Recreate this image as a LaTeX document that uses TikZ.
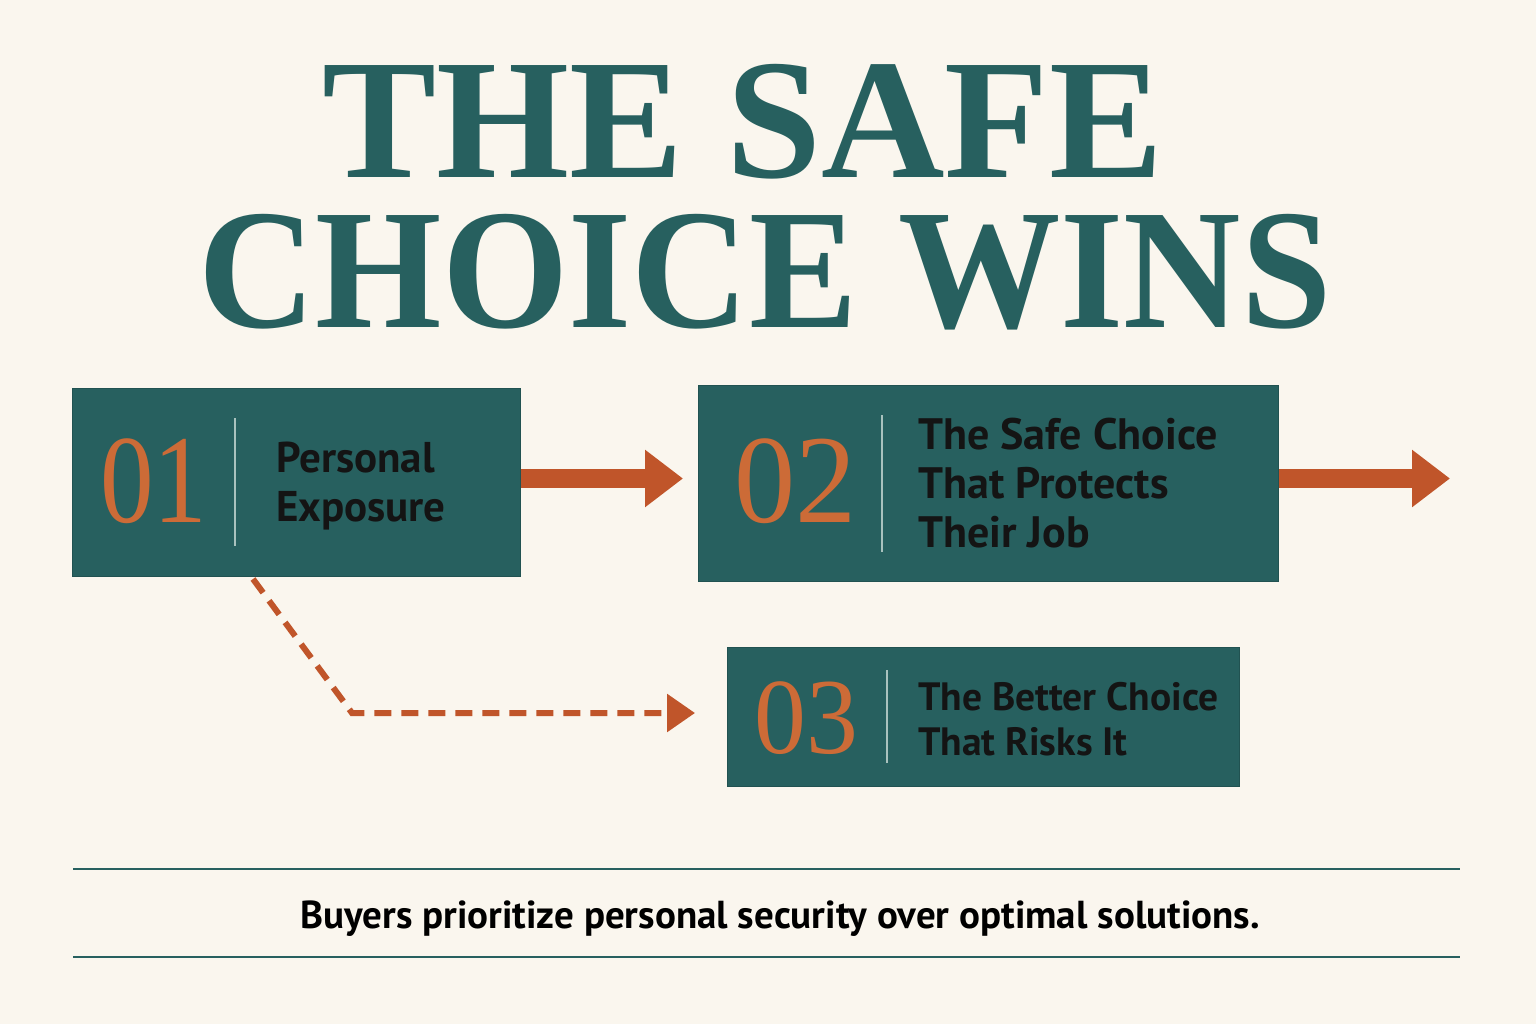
\documentclass[tikz,border=0pt]{standalone}
\usepackage{fontspec}
\setmainfont{Liberation Serif}
\newfontfamily\boxsans{PT Sans}
\usetikzlibrary{arrows.meta}
\definecolor{cream}{HTML}{FAF6EE}
\definecolor{deepteal}{HTML}{27605F}
\definecolor{rust}{HTML}{C0552A}
\definecolor{numorange}{HTML}{CC6B37}
\definecolor{divgrey}{HTML}{A9C2BE}
\begin{document}
\begin{tikzpicture}[x=1pt, y=-1pt,
    title/.style={text=deepteal, anchor=base, inner sep=0pt, font=\bfseries\fontsize{171}{171}\selectfont},
    box/.style={fill=deepteal, draw=deepteal!85!black, line width=1pt, inner sep=0pt},
    num/.style={text=numorange, anchor=base west, inner sep=0pt, font=\fontsize{126}{126}\selectfont},
    lbl/.style={anchor=north west, align=left, inner sep=0pt, text=black!92, font=\boxsans\bfseries\fontsize{43}{49}\selectfont},
    divider/.style={divgrey, line width=2.5pt},
    bigarrow/.style={rust, line width=19pt, -{Triangle[length=38pt,width=55pt]}},
    dasharrow/.style={rust, line width=6pt, dash pattern=on 17pt off 10pt, -{Triangle[length=28pt,width=37pt]}},
    rule/.style={deepteal, line width=2.5pt}]
  \fill[cream] (0,0) rectangle (1536,1024);
  \useasboundingbox (0,0) rectangle (1536,1024);

  % title
  \node[title] (h1) at (743,178) {THE SAFE};
  \node[title] (h2) at (765,327) {\scalebox{0.95}[1]{CHOICE WINS}};

  % boxes
  \node[box, minimum width=448, minimum height=188] (b1) at (296,482) {};
  \node[box, minimum width=580, minimum height=196] (b2) at (988,483) {};
  \node[box, minimum width=512, minimum height=139] (b3) at (983,716.5) {};

  \node[num] (n1) at (100,522) {\scalebox{0.85}[1]{01}};
  \node[num] (n2) at (734,522) {\scalebox{0.97}[1]{02}};
  \node[num, font=\fontsize{108}{108}\selectfont] (n3) at (754,753) {\scalebox{0.96}[1]{03}};

  \draw[divider] (235,418) -- (235,546);
  \draw[divider] (882,415) -- (882,552);
  \draw[divider] (887,670) -- (887,763);

  \node[lbl] (t1) at (276,442) {Personal\\Exposure};
  \node[lbl, font=\boxsans\bfseries\fontsize{44}{49}\selectfont] (t2) at (918,418) {The Safe Choice\\That Protects\\Their Job};
  \node[lbl, font=\boxsans\bfseries\fontsize{39.5}{45}\selectfont] (t3) at (918,682) {The Better Choice\\That Risks It};

  % arrows
  \coordinate (a1) at (683,478.5);
  \coordinate (a2) at (1450,478.5);
  \coordinate (c1) at (253,579);
  \coordinate (bend) at (352,713);
  \coordinate (a3) at (695,713);
  \draw[bigarrow] (b1.east |- a1) -- (a1);
  \draw[bigarrow] (b2.east |- a2) -- (a2);
  \draw[dasharrow] (c1) -- (bend) -- (a3);

  % footer
  \draw[rule] (73,869) -- (1460,869);
  \draw[rule] (73,957) -- (1460,957);
  \node[anchor=base, inner sep=0pt, font=\boxsans\bfseries\fontsize{39}{39}\selectfont] (foot) at (780,928) {Buyers prioritize personal security over optimal solutions.};
\end{tikzpicture}
\end{document}
